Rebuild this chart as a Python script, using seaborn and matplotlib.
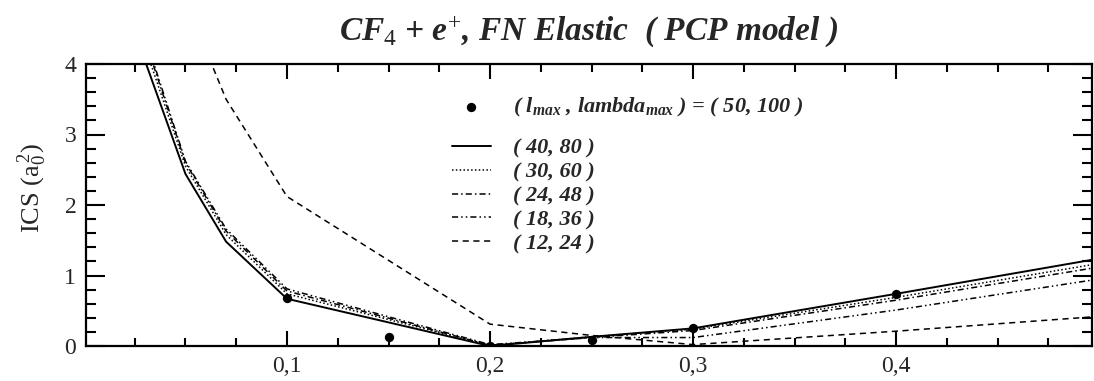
import matplotlib
matplotlib.use("Agg")
import matplotlib.pyplot as plt
import seaborn as sns
import pandas as pd
from matplotlib.ticker import MultipleLocator, FixedLocator, FuncFormatter

# ---- data ----
energy = [0.03, 0.05, 0.07, 0.10, 0.20, 0.25, 0.30, 0.40, 0.50]
ics_40_80 = [4.05, 2.44, 1.48, 0.67, 0.00, 0.13, 0.25, 0.74, 1.24]
ics_30_60 = [4.25, 2.55, 1.58, 0.74, 0.01, 0.13, 0.24, 0.69, 1.17]
ics_24_48 = [4.35, 2.60, 1.63, 0.78, 0.01, 0.12, 0.22, 0.65, 1.12]
ics_18_36 = [4.40, 2.62, 1.66, 0.81, 0.02, 0.12, 0.12, 0.51, 0.95]
ics_12_24 = [6.30, 4.90, 3.50, 2.12, 0.31, 0.15, 0.02, 0.21, 0.42]

pts_energy = [0.10, 0.15, 0.20, 0.25, 0.30, 0.40]
pts_ics = [0.68, 0.13, 0.00, 0.09, 0.26, 0.74]

x_ticks = [0.1, 0.2, 0.3, 0.4]
y_ticks = [0, 1, 2, 3, 4]

sns.set_style("ticks")
plt.rcParams['font.family'] = ['Liberation Serif', 'DejaVu Serif']
plt.rcParams['mathtext.fontset'] = 'custom'
plt.rcParams['mathtext.rm'] = 'Liberation Serif'
plt.rcParams['mathtext.it'] = 'Liberation Serif:italic:bold'
plt.rcParams['mathtext.bf'] = 'Liberation Serif:bold'

fig = plt.figure(figsize=(10.94, 3.81), dpi=100)
ax = fig.add_axes([86 / 1094, 35 / 381, 1006 / 1094, 282 / 381])

lab_pts = r"( $l_{max}$ , $lambda_{max}$ ) = ( 50, 100 )"
sns.scatterplot(x=pts_energy, y=pts_ics, ax=ax, color='black', s=45,
                edgecolor='black', linewidth=0, zorder=5, label=lab_pts)

series = [
    ("( 40, 80 )", ics_40_80, '-', 1.4),
    ("( 30, 60 )", ics_30_60, (0, (1, 1.5)), 1.1),
    ("( 24, 48 )", ics_24_48, (0, (4, 2, 1, 2)), 1.1),
    ("( 18, 36 )", ics_18_36, (0, (4, 2, 1, 2, 1, 2)), 1.1),
    ("( 12, 24 )", ics_12_24, (0, (4, 3)), 1.1),
]
for lab, vals, ls, lw in series:
    df = pd.DataFrame({"E": energy, "ICS": vals})
    sns.lineplot(data=df, x="E", y="ICS", ax=ax, color='black',
                 linestyle=ls, linewidth=lw, label=lab, sort=False)

ax.set_xlim(0.001, 0.4965)
ax.set_ylim(0, 4)

ax.xaxis.set_major_locator(FixedLocator(x_ticks))
ax.xaxis.set_minor_locator(MultipleLocator(0.025))
ax.xaxis.set_major_formatter(FuncFormatter(lambda v, p: f"{v:.1f}".replace('.', ',')))
ax.yaxis.set_major_locator(FixedLocator(y_ticks))
ax.yaxis.set_minor_locator(MultipleLocator(0.2))
ax.yaxis.set_major_formatter(FuncFormatter(lambda v, p: f"{v:.0f}"))

ax.tick_params(which='both', direction='in', top=True, right=True,
               width=1.5, color='black', labelsize=17, pad=7)
ax.tick_params(axis='x', which='major', length=11)
ax.tick_params(axis='x', which='minor', length=5.5)
ax.tick_params(axis='y', which='major', length=14)
ax.tick_params(axis='y', which='minor', length=7)
for sp in ax.spines.values():
    sp.set_linewidth(1.6)
    sp.set_color('black')

ax.set_xlabel("")
ax.set_ylabel(r"ICS $(\mathrm{a}_0^{\,2})$", fontsize=19)
ax.yaxis.set_label_coords((49 - 86) / 1006, (346 - 188) / 282)

fig.text(0.5 * (86 + 1092) / 1094, 1 - 31 / 381,
         r"$CF_{\mathit{4}}$ + $e^{\mathit{+}}$, FN Elastic  ( PCP model )",
         ha='center', va='center', fontsize=24, fontweight='bold', fontstyle='italic')

handles, labels = ax.get_legend_handles_labels()
legprop = {'family': 'Liberation Serif', 'weight': 'bold', 'style': 'italic', 'size': 16}
common = dict(frameon=False, borderaxespad=0, borderpad=0, handlelength=1.75,
              handletextpad=1.0, labelspacing=0.15, prop=legprop)
leg1 = ax.legend(handles[:1], labels[:1], loc='upper left',
                 bbox_to_anchor=((452 - 86) / 1006, (346 - 96) / 282), **common)
ax.add_artist(leg1)
leg2 = ax.legend(handles[1:], labels[1:], loc='upper left',
                 bbox_to_anchor=((452 - 86) / 1006, (346 - 138) / 282), **common)

fig.savefig("out.png", dpi=100)
